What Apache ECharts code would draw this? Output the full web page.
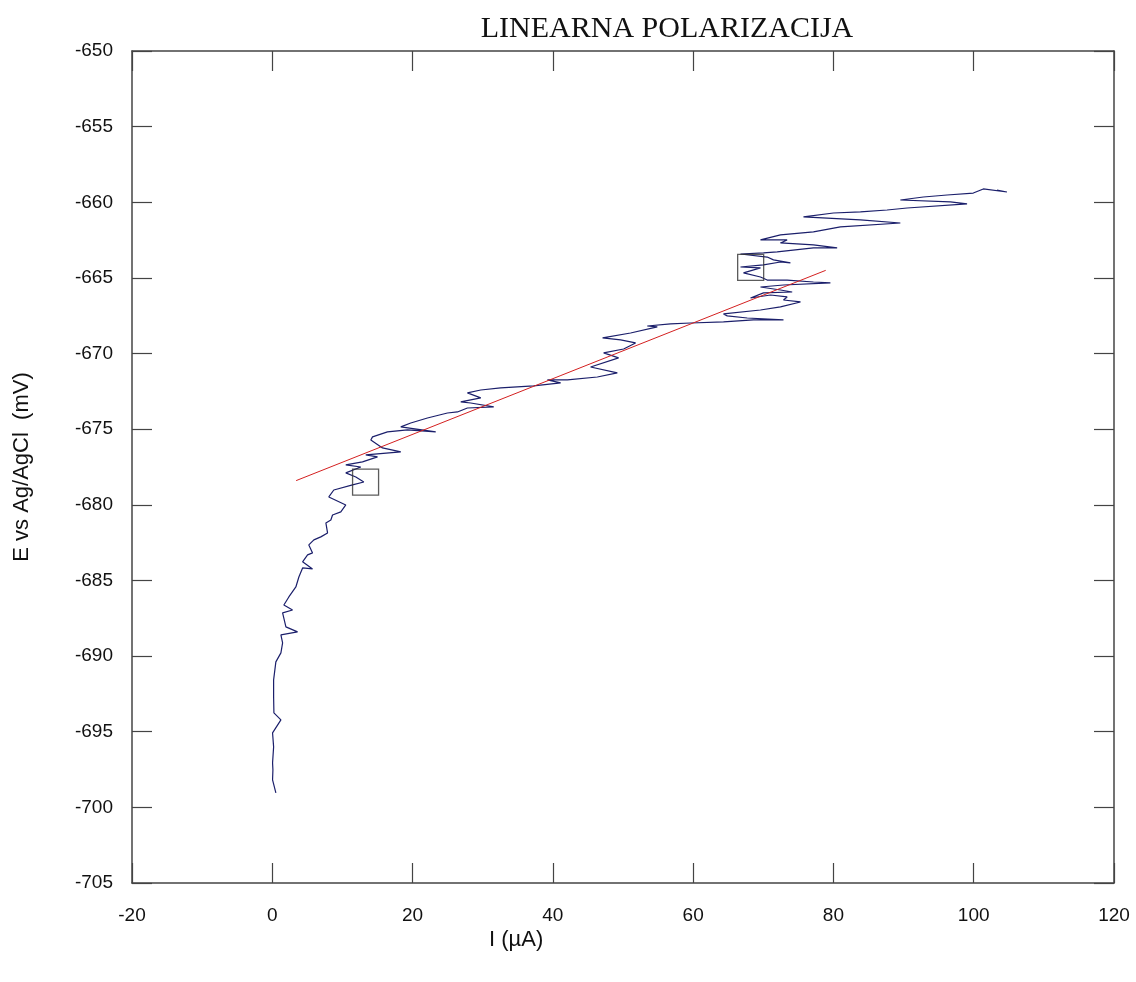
<!DOCTYPE html>
<html><head><meta charset="utf-8">
<script src="https://cdn.jsdelivr.net/npm/echarts@6/dist/echarts.min.js"></script>
<style>html,body{margin:0;padding:0;background:#fff}#c{width:1136px;height:982px}</style>
</head><body><div id="c"></div>
<script>
const titleText = 'LINEARNA POLARIZACIJA';
const xName = 'I (µA)';
const yName = 'E vs Ag/AgCl  (mV)';
const xTicks = {min: -20, max: 120, interval: 20};
const yTicks = {min: -705, max: -650, interval: 5};

// measured curve: current (µA)
const currentI = [0.51,0.04,0.09,0.04,0.19,0.04,1.23,0.23,0.19,0.19,0.51,1.23,1.47,1.23,3.60,1.94,1.47,2.89,1.65,2.36,3.36,3.79,4.32,5.74,4.32,5.03,5.74,5.21,5.93,6.92,7.88,7.64,8.35,8.59,9.77,10.48,8.06,8.77,11.44,13.05,11.91,10.48,12.62,10.48,12.86,15.0,13.33,18.32,15.71,14.05,14.29,16.42,19.27,23.30,18.32,19.74,22.12,24.97,26.40,27.82,31.57,28.29,26.87,29.72,27.82,29.72,32.56,37.26,41.11,39.22,42.07,46.34,49.19,45.38,49.37,47.24,50.09,51.79,49.66,47.09,51.08,54.89,53.46,56.78,59.63,64.33,68.60,72.88,67.71,64.86,64.33,69.60,72.45,75.30,72.88,73.40,71.03,68.18,70.03,74.12,72.45,69.60,72.88,79.57,77.15,73.40,70.56,69.60,67.18,69.60,66.75,70.03,72.45,73.87,71.45,70.56,66.75,70.03,71.98,77.15,80.53,77.15,72.45,73.40,69.60,72.45,77.15,81.0,89.54,83.85,75.73,80.0,83.85,87.65,90.50,99.05,96.67,89.54,92.82,96.20,99.94,101.37,104.74,103.32];
// measured curve: potential (mV)
const potentialE = [-699.04,-698.18,-697.52,-697.06,-696.0,-695.08,-694.22,-693.75,-692.70,-691.57,-690.38,-689.79,-689.13,-688.60,-688.40,-688.07,-687.14,-686.95,-686.62,-686.09,-685.43,-684.77,-684.17,-684.24,-683.77,-683.31,-683.18,-682.65,-682.32,-682.12,-681.86,-681.20,-681.0,-680.67,-680.47,-680.01,-679.48,-679.02,-678.68,-678.49,-678.16,-677.89,-677.50,-677.36,-677.16,-676.83,-676.70,-676.50,-676.24,-675.71,-675.51,-675.18,-675.05,-675.18,-674.85,-674.59,-674.26,-673.93,-673.86,-673.60,-673.53,-673.27,-673.20,-672.93,-672.60,-672.41,-672.27,-672.14,-671.94,-671.74,-671.74,-671.55,-671.28,-670.89,-670.29,-669.96,-669.70,-669.30,-669.10,-668.97,-668.64,-668.24,-668.18,-668.04,-667.98,-667.91,-667.78,-667.78,-667.65,-667.51,-667.38,-667.12,-666.92,-666.59,-666.46,-666.26,-666.13,-666.33,-665.99,-665.93,-665.80,-665.60,-665.47,-665.33,-665.27,-665.14,-665.14,-664.94,-664.67,-664.34,-664.28,-664.14,-663.95,-664.01,-663.81,-663.62,-663.42,-663.35,-663.28,-663.02,-663.02,-662.82,-662.69,-662.49,-662.49,-662.16,-661.96,-661.63,-661.37,-661.17,-660.97,-660.71,-660.64,-660.51,-660.38,-660.11,-659.98,-659.85,-659.65,-659.52,-659.39,-659.12,-659.32,-659.19];

// linear fit line endpoints
const fitI = [3.4, 78.9];
const fitE = [-678.4, -664.5];

// fit range markers
const markI = [13.3, 68.2];
const markE = [-678.5, -664.3];

const curve = currentI.map((v, i) => [v, potentialE[i]]);
const fit = fitI.map((v, i) => [v, fitE[i]]);
const marks = markI.map((v, i) => [v, markE[i]]);

const axisLine = {show: true, onZero: false, lineStyle: {color: '#444', width: 1.5}};
const tickIn = {show: true, inside: true, length: 20, lineStyle: {color: '#444', width: 1.2}};
const lblFont = {fontFamily: 'Liberation Sans, Arial, sans-serif', fontSize: 19, color: '#111'};

const chart = echarts.init(document.getElementById('c'));
chart.setOption({
  animation: false,
  backgroundColor: '#fff',
  title: {
    text: titleText, left: 662, top: 9, textAlign: 'center',
    textStyle: {fontFamily: 'Liberation Serif, Times New Roman, serif', fontSize: 30, fontWeight: 'normal', color: '#111'}
  },
  grid: {left: 132, right: 22, top: 51, bottom: 99, containLabel: false, outerBoundsMode: 'none'},
  xAxis: [
    {type: 'value', min: xTicks.min, max: xTicks.max, interval: xTicks.interval, position: 'bottom',
     axisLine: axisLine, axisTick: tickIn, splitLine: {show: false},
     axisLabel: Object.assign({margin: 23}, lblFont)},
    {type: 'value', min: xTicks.min, max: xTicks.max, interval: xTicks.interval, position: 'top',
     axisLine: axisLine, axisTick: tickIn, splitLine: {show: false}, axisLabel: {show: false}}
  ],
  yAxis: [
    {type: 'value', min: yTicks.min, max: yTicks.max, interval: yTicks.interval, position: 'left',
     axisLine: axisLine, axisTick: tickIn, splitLine: {show: false},
     axisLabel: Object.assign({margin: 19}, lblFont),
     name: yName, nameLocation: 'middle', nameGap: 99, nameRotate: 90,
     nameTextStyle: {fontFamily: 'Liberation Sans, Arial, sans-serif', fontSize: 22, color: '#111'}},
    {type: 'value', min: yTicks.min, max: yTicks.max, interval: yTicks.interval, position: 'right',
     axisLine: axisLine, axisTick: tickIn, splitLine: {show: false}, axisLabel: {show: false}}
  ],
  graphic: [{
    type: 'text', left: 489, top: 929,
    style: {text: xName, font: '22px "Liberation Sans", Arial, sans-serif', fill: '#111'}
  }],
  series: [
    {type: 'line', data: curve, showSymbol: false, symbol: 'none',
     lineStyle: {color: '#1b1f6b', width: 1.2}, z: 3},
    {type: 'line', data: fit, showSymbol: false, symbol: 'none',
     lineStyle: {color: '#d42020', width: 1}, z: 4},
    {type: 'scatter', data: marks, symbol: 'rect', symbolSize: 26,
     itemStyle: {color: 'rgba(0,0,0,0)', borderColor: '#333', borderWidth: 1.3}, z: 5}
  ]
});
</script>
</body></html>
